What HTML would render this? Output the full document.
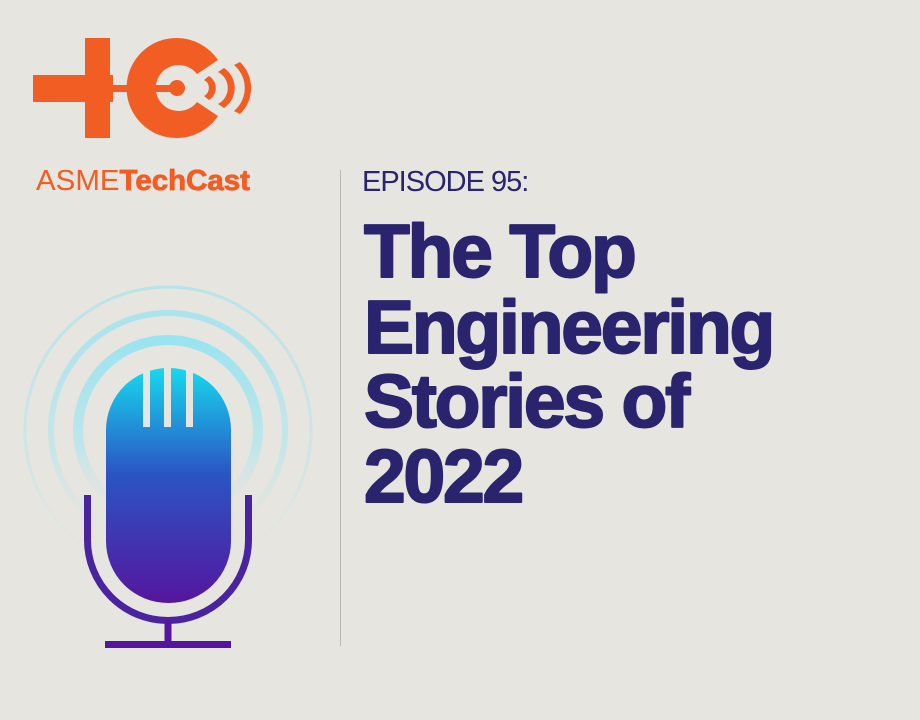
<!DOCTYPE html>
<html><head><meta charset="utf-8"><style>
html,body{margin:0;padding:0;background:#e6e5df;}
svg{display:block}
</style></head><body>
<svg width="920" height="720" viewBox="0 0 920 720" xmlns="http://www.w3.org/2000/svg">
<defs>
<linearGradient id="mg" x1="0" y1="0" x2="0" y2="1">
<stop offset="0" stop-color="#17d9ef"/>
<stop offset="0.45" stop-color="#2a55c4"/>
<stop offset="1" stop-color="#55169e"/>
</linearGradient>
<linearGradient id="rg" x1="0" y1="0" x2="0" y2="1">
<stop offset="0" stop-color="#9ae3f0" stop-opacity="1"/>
<stop offset="0.6" stop-color="#b5e6ee" stop-opacity="0.8"/>
<stop offset="1" stop-color="#e6e5df" stop-opacity="0"/>
</linearGradient>
</defs>
<rect width="920" height="720" fill="#e6e5df"/>
<g fill="#f15d22">
<rect x="33" y="75" width="80" height="27"/>
<rect x="85" y="38" width="25" height="100"/>
<rect x="105" y="85" width="70" height="7"/>
<path d="M177,88 m0,-50 a50,50 0 1,0 41,78 L197,102 a23,23 0 1,1 0,-28 L218,60 A50,50 0 0,0 177,38 Z"/>
<circle cx="177" cy="88" r="8"/>
<path d="M209,76 a14,14 0 0,1 0,24 l-5,-4 a9,9 0 0,0 0,-16 z"/>
<path d="M224,68 a24,24 0 0,1 0,40 l-6,-4 a18,18 0 0,0 0,-32 z"/>
<path d="M240,62 a36,36 0 0,1 0,52 l-6,-3 a30,30 0 0,0 0,-46 z"/>
</g>
<text x="36" y="190" font-family="Liberation Sans, sans-serif" font-size="29" fill="#f15d22" textLength="214" lengthAdjust="spacingAndGlyphs"><tspan font-weight="normal">ASME</tspan><tspan font-weight="bold" stroke="#f15d22" stroke-width="0.8">TechCast</tspan></text>
<g fill="none" stroke="url(#rg)">
<circle cx="168" cy="430" r="90" stroke-width="10"/>
<circle cx="168" cy="430" r="117" stroke-width="6" opacity="0.8"/>
<circle cx="168" cy="430" r="143" stroke-width="3" opacity="0.6"/>
</g>
<rect x="106" y="368" width="125" height="235" rx="62" fill="url(#mg)"/>
<rect x="143" y="365" width="7" height="62" fill="#e6e5df"/>
<rect x="164" y="365" width="7" height="62" fill="#e6e5df"/>
<rect x="186" y="365" width="7" height="62" fill="#e6e5df"/>
<path d="M87.5,495 V540 a80.5,80.5 0 0,0 161,0 V495" fill="none" stroke="#4a23a0" stroke-width="7"/>
<rect x="164.5" y="620" width="7" height="24" fill="#55169e"/>
<rect x="105" y="641" width="126" height="7" fill="#55169e"/>
<rect x="340" y="170" width="1" height="476" fill="#b9b8b2"/>
<g fill="#2a246e" font-family="Liberation Sans, sans-serif">
<text x="362" y="191" font-size="29" letter-spacing="-1">EPISODE 95:</text>
<g font-size="75" font-weight="bold" letter-spacing="-2.2" stroke="#2a246e" stroke-width="2" stroke-linejoin="round">
<text x="364" y="277">The Top</text>
<text x="364" y="353">Engineering</text>
<text x="364" y="427">Stories of</text>
<text x="364" y="502">2022</text>
</g>
</g>
</svg>
</body></html>
